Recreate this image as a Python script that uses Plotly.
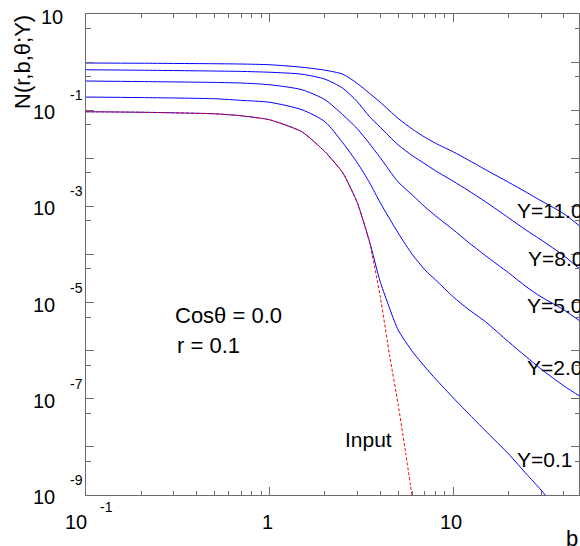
import math
import plotly.graph_objects as go

# Impact-parameter grid shared by the evolved curves
b_grid = [0.1, 0.2, 0.5, 0.7, 1, 1.5, 2, 2.5, 3, 3.5, 4, 5, 6, 7, 8,
          10, 12, 15, 20, 25, 30, 40, 50]

# Dipole amplitude N(r, b, theta; Y) at r = 0.1, cos(theta) = 0
n_y11 = [0.957, 0.947, 0.925, 0.912, 0.881, 0.782, 0.678, 0.560, 0.360, 0.223,
         0.146, 0.0679, 0.0401, 0.0274, 0.0205, 0.0136, 0.00931, 0.00577,
         0.00317, 0.00196, 0.00131, 0.000702, 0.000358]
n_y8 = [0.693, 0.678, 0.652, 0.640, 0.615, 0.560, 0.441, 0.286, 0.150, 0.0731,
        0.0442, 0.0191, 0.01127, 0.00768, 0.00549, 0.00333, 0.00216, 0.00124,
        0.000578, 0.000318, 0.000202, 0.0000938, 0.0000457]
n_y5 = [0.404, 0.394, 0.378, 0.367, 0.338, 0.266, 0.165, 0.0804, 0.0411, 0.0200,
        0.01026, 0.00324, 0.00170, 0.000980, 0.000637, 0.000326, 0.000183,
        0.0000938, 0.0000415, 0.0000212, 0.0000132, 0.00000705, 0.00000388]
n_y2 = [0.1875, 0.183, 0.173, 0.160, 0.146, 0.102, 0.0575, 0.0210, 0.00807,
        0.00310, 0.00119, 0.000282, 0.0000982, 0.0000479, 0.0000296, 0.0000131,
        0.00000739, 0.00000396, 0.00000152, 7.41e-7, 4.17e-7, 1.85e-7, 1.07e-7]

b_y01 = [0.1, 0.2, 0.5, 0.7, 1, 1.5, 2, 2.5, 3, 3.5, 4, 5, 6, 7, 8,
         10, 12, 15, 20, 25, 30, 35]
n_y01 = [0.0929, 0.0906, 0.0843, 0.0766, 0.0632, 0.0356, 0.01368, 0.00500,
         0.00119, 0.000183, 0.0000270, 0.00000271, 9.44e-7, 4.60e-7, 2.59e-7,
         1.04e-7, 5.08e-8, 2.14e-8, 7.12e-9, 2.73e-9, 1.27e-9, 6.19e-10]

# Initial condition
b_input = [0.1, 0.2, 0.5, 0.7, 1, 1.5, 2, 2.5, 3, 3.5, 4, 4.5, 5, 5.5, 6]
n_input = [0.0929, 0.0906, 0.0843, 0.0766, 0.0632, 0.0356, 0.01368, 0.00500,
           0.00119, 0.000175, 0.0000132, 7.80e-7, 7.82e-8, 7.48e-9, 7.87e-10]

curve_labels = ["Y=11.0", "Y=8.0", "Y=5.0", "Y=2.0", "Y=0.1"]
input_label = "Input"
info_lines = ["Cos\u03b8 = 0.0", "r = 0.1"]
x_title = "b"
y_title = "N(r,b,\u03b8;Y)"

# Axis ticks
x_major = [0.1, 1, 10]
x_minor = [k * 10.0 ** e for e in (-1, 0, 1) for k in range(2, 10) if k * 10.0 ** e <= 50]
y_major = [10.0 ** e for e in range(-9, 2)]
y_minor = [5 * 10.0 ** e for e in range(-9, 1)]
y_label_exps = [1, -1, -3, -5, -7, -9]
x_label_exps = [-1, 0, 1]

W, H = 580, 546
ML, MR, MT, MB = 86, 1, 14, 51
PW, PH = W - ML - MR, H - MT - MB
FONT = "Liberation Sans, Arial, Helvetica, sans-serif"
BLUE = "#0000ff"
RED = "#ff0000"
AXIS = "#6a6a6a"


def px(x):
    return (x - ML) / PW


def py(y):
    return (MT + PH - y) / PH


fig = go.Figure()
for yv in (n_y11, n_y8, n_y5, n_y2):
    fig.add_trace(go.Scatter(x=b_grid, y=yv, mode="lines",
                             line=dict(color=BLUE, width=1, shape="spline", smoothing=0.7),
                             showlegend=False))
fig.add_trace(go.Scatter(x=b_y01, y=n_y01, mode="lines",
                         line=dict(color=BLUE, width=1, shape="spline", smoothing=0.5),
                         showlegend=False))
fig.add_trace(go.Scatter(x=b_input, y=n_input, mode="lines",
                         line=dict(color=RED, width=1, dash="3px,2px",
                                   shape="spline", smoothing=0.5),
                         showlegend=False))

ann = []


def text(s, x, y, size, xanchor="left", **kw):
    ann.append(dict(text=s, x=x, y=y, showarrow=False, xanchor=xanchor,
                    yanchor="middle", font=dict(family=FONT, size=size, color="black"),
                    **kw))


# Curve labels and notes (placed in paper coordinates)
label_pos = [(515, 210), (526, 258), (525, 305), (525, 368), (515, 459)]
for s, (lx, ly) in zip(curve_labels, label_pos):
    text(s, px(lx), py(ly), 21, xref="paper", yref="paper")
text(input_label, px(343), py(440), 21, xref="paper", yref="paper")
text(info_lines[0], px(173), py(316), 22, xref="paper", yref="paper")
text(info_lines[1], px(175), py(345), 22, xref="paper", yref="paper")
text(x_title, px(572), py(538), 22, xanchor="center", xref="paper", yref="paper")
ann.append(dict(text=y_title, x=px(22.5), y=py(62.5), xref="paper", yref="paper",
                showarrow=False, textangle=-90, xanchor="center", yanchor="middle",
                font=dict(family=FONT, size=22, color="black")))

# y tick labels: "10" with a raised exponent
for e in y_label_exps:
    if e == 1:
        text("10", 0, e, 20, xanchor="right", xref="paper", yref="y",
             xshift=-21, yshift=-3)
    else:
        text("10", 0, e, 20, xanchor="right", xref="paper", yref="y",
             xshift=-29, yshift=-2)
        text(str(e), 0, e, 14, xanchor="left", xref="paper", yref="y",
             xshift=-18, yshift=15)

# x tick labels
for e in x_label_exps:
    if e == -1:
        text("10", e, 0, 20, xanchor="right", xref="x", yref="paper",
             xshift=3, yshift=-27)
        text(str(e), e, 0, 14, xanchor="left", xref="x", yref="paper",
             xshift=12, yshift=-12)
    else:
        text(str(10 ** e), e, 0, 20, xanchor="center", xref="x", yref="paper",
             xshift=-2, yshift=-27)

axis_common = dict(type="log", showgrid=False, zeroline=False, showline=True,
                   linecolor=AXIS, linewidth=1, mirror="ticks", ticks="inside",
                   tickcolor=AXIS, tickwidth=1, showticklabels=False,
                   tickmode="array")

fig.update_layout(
    width=W, height=H, autosize=False,
    margin=dict(l=ML, r=MR, t=MT, b=MB, pad=0),
    paper_bgcolor="white", plot_bgcolor="white",
    showlegend=False,
    xaxis=dict(axis_common, range=[-1, math.log10(48.3)], tickvals=x_major, ticklen=8,
               minor=dict(tickmode="array", tickvals=x_minor, ticks="inside",
                          ticklen=4, tickcolor=AXIS, tickwidth=1)),
    yaxis=dict(axis_common, range=[-9, 1], tickvals=y_major, ticklen=8,
               minor=dict(tickmode="array", tickvals=y_minor, ticks="inside",
                          ticklen=4.5, tickcolor=AXIS, tickwidth=1)),
    annotations=ann,
)

fig.write_html("out.html")
